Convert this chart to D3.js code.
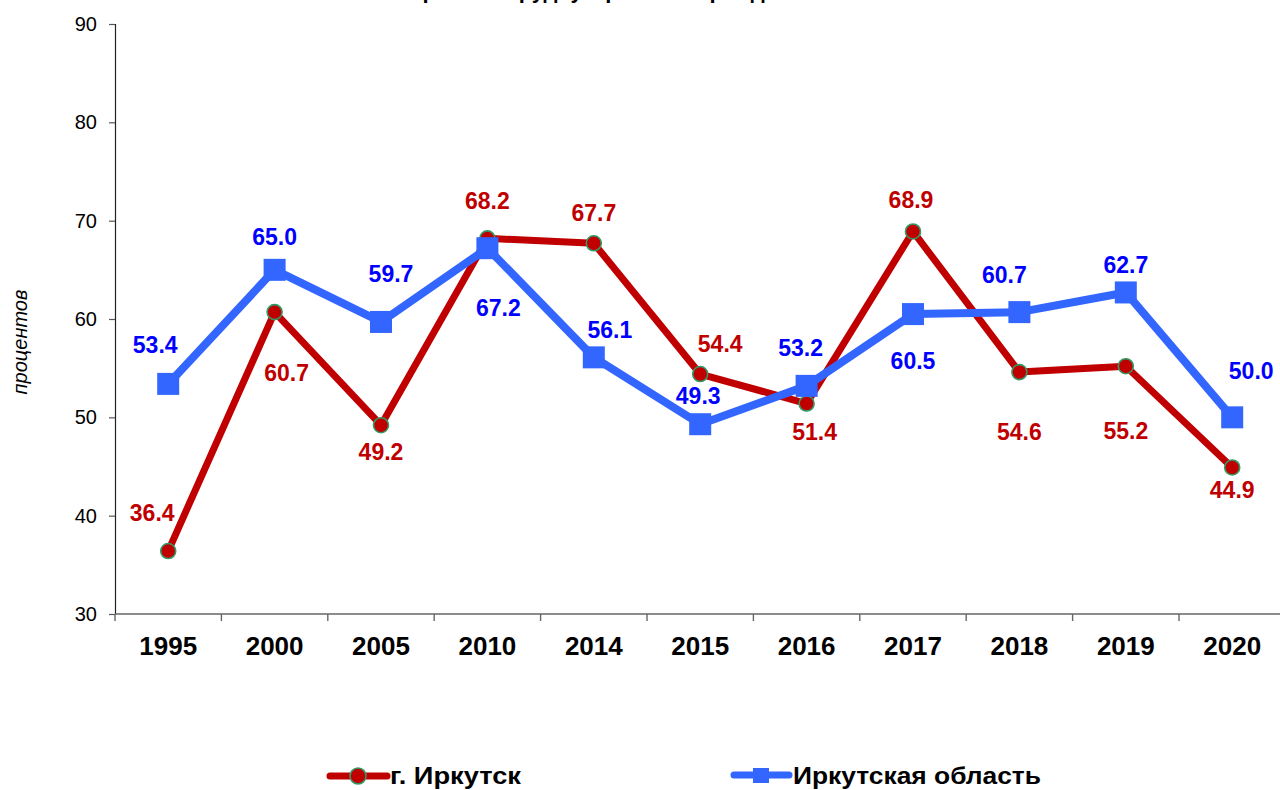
<!DOCTYPE html>
<html>
<head>
<meta charset="utf-8">
<script src="https://cdn.jsdelivr.net/npm/d3@7"></script>
<style>
  html, body { margin: 0; padding: 0; background: #fff; }
  svg { display: block; font-family: Arial, "Liberation Sans", sans-serif; }
</style>
</head>
<body>
<svg id="chart" width="1280" height="790"></svg>
<script>
// ---- data ----
const titleText = "Уровень трудоустройства граждан";
const categories = ["1995", "2000", "2005", "2010", "2014", "2015", "2016", "2017", "2018", "2019", "2020"];
const irkutskCity = [36.4, 60.7, 49.2, 68.2, 67.7, 54.4, 51.4, 68.9, 54.6, 55.2, 44.9];
const irkutskRegion = [53.4, 65.0, 59.7, 67.2, 56.1, 49.3, 53.2, 60.5, 60.7, 62.7, 50.0];
const yTicks = [30, 40, 50, 60, 70, 80, 90];
const seriesNames = ["г. Иркутск", "Иркутская область"];
const yAxisTitle = "процентов";

// label placement (style): offsets of label centre from point, in px
const cityLabelOffsets = [[-16, -38], [12, 61], [0, 27], [0, -37], [0, -30], [20, -30], [8, 28], [-2, -32], [0, 60], [0, 65], [0, 22]];
const regionLabelOffsets = [[-13, -39], [0, -33], [10, -48], [11, 60], [16, -27], [-2, -28], [-6, -38], [0, 47], [-15, -37], [0, -28], [19, -46]];

// ---- layout ----
const svg = d3.select("#chart");
const plot = { left: 115, top: 24, bottom: 614, right: 1285.4 };

const x = d3.scaleBand().domain(categories).range([plot.left, plot.right]).padding(0);
const y = d3.scaleLinear().domain([30, 90]).range([plot.bottom, plot.top]);

// title (mostly cut off at the top of the frame, as in the reference)
svg.append("text")
  .attr("x", 600).attr("y", -2)
  .attr("text-anchor", "middle")
  .attr("font-size", 22).attr("font-weight", "bold")
  .attr("fill", "#000")
  .text(titleText);

// y axis
const yAxis = d3.axisLeft(y).tickValues(yTicks).tickSize(6).tickPadding(12).tickFormat(d3.format("d"));
const gy = svg.append("g").attr("transform", `translate(${plot.left},0)`).call(yAxis);
gy.select(".domain").attr("stroke", "#222").attr("stroke-width", 1.2);
gy.selectAll(".tick line").attr("stroke", "#555").attr("stroke-width", 1.2);
gy.selectAll(".tick text").attr("font-size", 20).attr("fill", "#000").attr("font-family", "Arial, 'Liberation Sans', sans-serif");

// x axis: domain line, ticks at band boundaries, labels at band centres
const gx = svg.append("g").attr("transform", `translate(0,${plot.bottom})`);
gx.append("line")
  .attr("x1", plot.left).attr("x2", plot.right)
  .attr("y1", 0).attr("y2", 0)
  .attr("stroke", "#666").attr("stroke-width", 1.6);
const boundaries = categories.map(c => x(c)).concat([plot.right]);
gx.selectAll("line.tk").data(boundaries).enter().append("line")
  .attr("class", "tk")
  .attr("x1", d => d).attr("x2", d => d)
  .attr("y1", 0).attr("y2", 7)
  .attr("stroke", "#666").attr("stroke-width", 1.4);
gx.selectAll("text").data(categories).enter().append("text")
  .attr("x", d => x(d) + x.bandwidth() / 2)
  .attr("y", 41)
  .attr("text-anchor", "middle")
  .attr("font-size", 26).attr("font-weight", "bold")
  .attr("fill", "#000")
  .text(d => d);

// y axis title
svg.append("text")
  .attr("transform", "translate(27,342) rotate(-90)")
  .attr("text-anchor", "middle")
  .attr("font-size", 20).attr("font-style", "italic")
  .attr("fill", "#000")
  .text(yAxisTitle);

const cx = (d, i) => x(categories[i]) + x.bandwidth() / 2;
const line = d3.line().x((d, i) => cx(d, i)).y(d => y(d));

// city series
const redColor = "#C00000";
const blueColor = "#3366FF";
svg.append("path").datum(irkutskCity)
  .attr("d", line).attr("fill", "none")
  .attr("stroke", redColor).attr("stroke-width", 7).attr("stroke-linejoin", "round");
svg.selectAll("circle.city").data(irkutskCity).enter().append("circle")
  .attr("class", "city")
  .attr("cx", cx).attr("cy", d => y(d)).attr("r", 7.5)
  .attr("fill", redColor).attr("stroke", "#339966").attr("stroke-width", 1.6);

// region series
svg.append("path").datum(irkutskRegion)
  .attr("d", line).attr("fill", "none")
  .attr("stroke", blueColor).attr("stroke-width", 8).attr("stroke-linejoin", "round");
const sq = 22;
svg.selectAll("rect.region").data(irkutskRegion).enter().append("rect")
  .attr("class", "region")
  .attr("x", (d, i) => cx(d, i) - sq / 2).attr("y", d => y(d) - sq / 2)
  .attr("width", sq).attr("height", sq)
  .attr("fill", blueColor);

// data labels
const fmt = d3.format(".1f");
svg.selectAll("text.clab").data(irkutskCity).enter().append("text")
  .attr("class", "clab")
  .attr("x", (d, i) => cx(d, i) + cityLabelOffsets[i][0])
  .attr("y", (d, i) => y(d) + cityLabelOffsets[i][1])
  .attr("dy", "0.35em")
  .attr("text-anchor", "middle")
  .attr("font-size", 23).attr("font-weight", "bold")
  .attr("fill", redColor)
  .text(d => fmt(d));
svg.selectAll("text.rlab").data(irkutskRegion).enter().append("text")
  .attr("class", "rlab")
  .attr("x", (d, i) => cx(d, i) + regionLabelOffsets[i][0])
  .attr("y", (d, i) => y(d) + regionLabelOffsets[i][1])
  .attr("dy", "0.35em")
  .attr("text-anchor", "middle")
  .attr("font-size", 23).attr("font-weight", "bold")
  .attr("fill", "#0000FF")
  .text(d => fmt(d));

// legend
const lg = svg.append("g");
lg.append("line").attr("x1", 330).attr("x2", 387).attr("y1", 776).attr("y2", 776)
  .attr("stroke", redColor).attr("stroke-width", 7).attr("stroke-linecap", "round");
lg.append("circle").attr("cx", 358).attr("cy", 776).attr("r", 8)
  .attr("fill", redColor).attr("stroke", "#339966").attr("stroke-width", 1.6);
lg.append("text").attr("x", 390).attr("y", 784)
  .attr("font-size", 24).attr("font-weight", "bold").attr("fill", "#000")
  .attr("textLength", 131).attr("lengthAdjust", "spacingAndGlyphs")
  .text(seriesNames[0]);
lg.append("line").attr("x1", 734).attr("x2", 789).attr("y1", 775).attr("y2", 775)
  .attr("stroke", blueColor).attr("stroke-width", 7).attr("stroke-linecap", "round");
lg.append("rect").attr("x", 753).attr("y", 768).attr("width", 16).attr("height", 15)
  .attr("fill", blueColor);
lg.append("text").attr("x", 793).attr("y", 784)
  .attr("font-size", 24).attr("font-weight", "bold").attr("fill", "#000")
  .attr("textLength", 248).attr("lengthAdjust", "spacingAndGlyphs")
  .text(seriesNames[1]);
</script>
</body>
</html>
